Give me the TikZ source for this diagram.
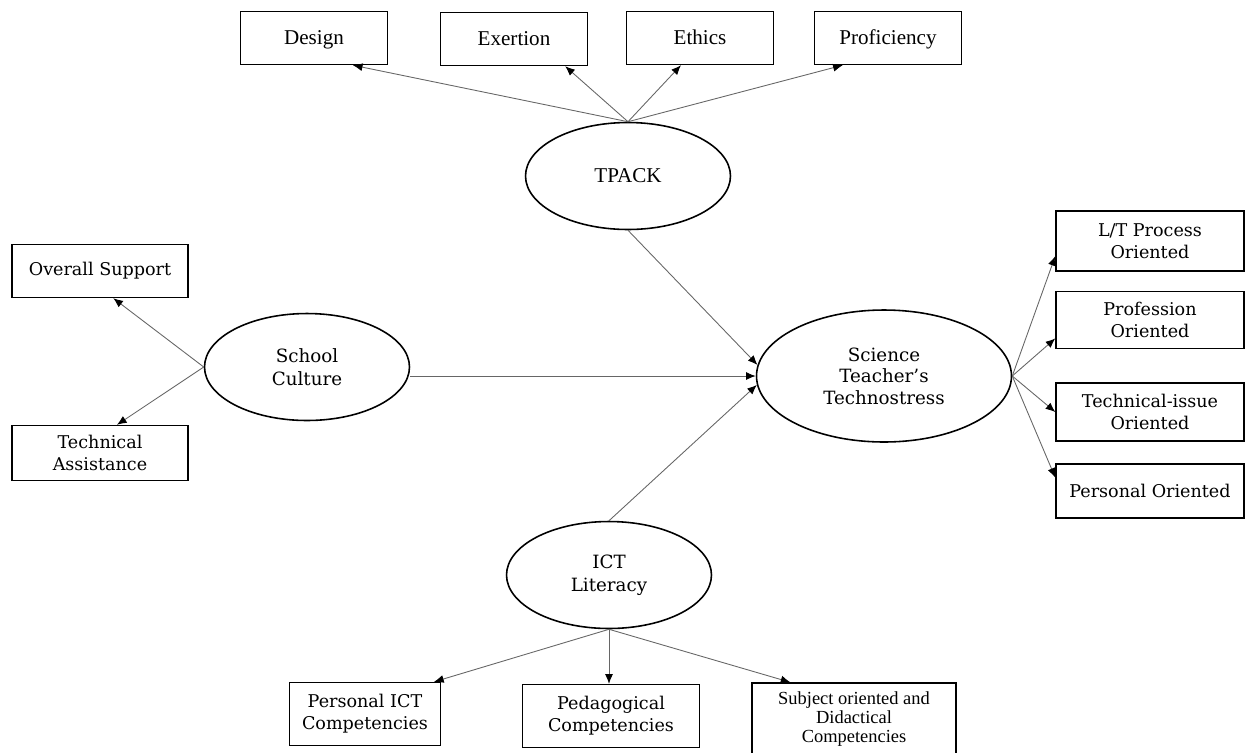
\documentclass[tikz,border=0pt]{standalone}
\usepackage{fontspec}
\setmainfont{DejaVu Serif}
\newfontfamily\timesfont{Liberation Serif}
\usetikzlibrary{shapes,arrows,arrows.meta}
\tikzstyle{block} = [rectangle, draw, line width=0.8pt, text centered, align=center, minimum
width=2.94cm, minimum height=1.06cm, font=\fontsize{10}{12.5}\selectfont]
\tikzstyle{tblock} = [block, font=\timesfont\fontsize{12}{14}\selectfont, text depth=1pt]
\tikzstyle{construct} = [ellipse, draw, line width=0.9pt, align=center, minimum
width=4.1cm, minimum height=2.14cm, font=\fontsize{10.4}{13.2}\selectfont]
\tikzstyle{line} = [draw, -{Latex[length=5.5pt, width=4.5pt, black]}, line width=0.5pt, black!60]

\begin{document}
\begin{tikzpicture}[x=0.02cm, y=-0.02cm]

   \useasboundingbox (0,0) rectangle (1245,752);

   % Constructs
   \node[construct, font=\timesfont\fontsize{12}{14}\selectfont] (tpack) at (628,176) {TPACK};
   \node[construct] (school) at (307,367) {School\\Culture};
   \node[construct, minimum width=5.1cm, minimum height=2.64cm, font=\fontsize{10.4}{12.3}\selectfont] (science) at (884,376) {Science\\Teacher's\\Technostress};
   \node[construct] (ict) at (609,575) {ICT\\Literacy};

   % Indicators of TPACK
   \node[tblock] (design) at (314,38) {Design};
   \node[tblock] (exertion) at (514,39) {Exertion};
   \node[tblock] (ethics) at (700,38) {Ethics};
   \node[tblock] (proficiency) at (888,38) {Proficiency};

   % Indicators of School Culture
   \node[block, minimum width=3.52cm] (overall) at (100,271) {Overall Support};
   \node[block, minimum width=3.52cm, minimum height=1.1cm] (techAssist) at (100,453) {Technical\\Assistance};

   % Indicators of Technostress
   \node[block, minimum width=3.76cm, minimum height=1.2cm] (ltProcess) at (1150,241) {L/T Process\\Oriented};
   \node[block, minimum width=3.76cm, minimum height=1.14cm] (profession) at (1150,320) {Profession\\Oriented};
   \node[block, minimum width=3.76cm, minimum height=1.16cm] (techIssue) at (1150,412) {Technical-issue\\Oriented};
   \node[block, minimum width=3.76cm, minimum height=1.08cm] (personal) at (1150,491) {Personal Oriented};

   % Indicators of ICT Literacy
   \node[block, minimum width=3.02cm, minimum height=1.26cm] (personalICT) at (365,714) {Personal ICT\\Competencies};
   \node[block, minimum width=3.54cm, minimum height=1.26cm] (pedagogical) at (611,716) {Pedagogical\\Competencies};
   \node[block, minimum width=4.08cm, minimum height=1.44cm, font=\timesfont\fontsize{10.5}{10.6}\selectfont] (subject) at (854,719) {Subject oriented and\\Didactical\\Competencies};

   %% Lines

   \path[line] (tpack.north) -- (design.-35);
   \path[line] (tpack.north) -- (exertion.-28);
   \path[line] (tpack.north) -- (ethics.-125);
   \path[line] (tpack.north) -- (proficiency.-149);

   \path[line] (school.west) -- (overall.-64);
   \path[line] (school.west) -- (techAssist.59);

   \path[line] (tpack.south) -- (science.175);
   \path[line] (school.east |- science.west) -- (science.west);
   \path[line] (ict.north) -- (science.184);

   \path[line] (science.east) -- (ltProcess.-171);
   \path[line] (science.east) -- (profession.-169);
   \path[line] (science.east) -- (techIssue.west);
   \path[line] (science.east) -- (personal.172);

   \path[line] (ict.south) -- (personalICT.25);
   \path[line] (ict.south) -- (ict.south |- pedagogical.north);
   \path[line] (ict.south) -- (subject.150);

\end{tikzpicture}
\end{document}
